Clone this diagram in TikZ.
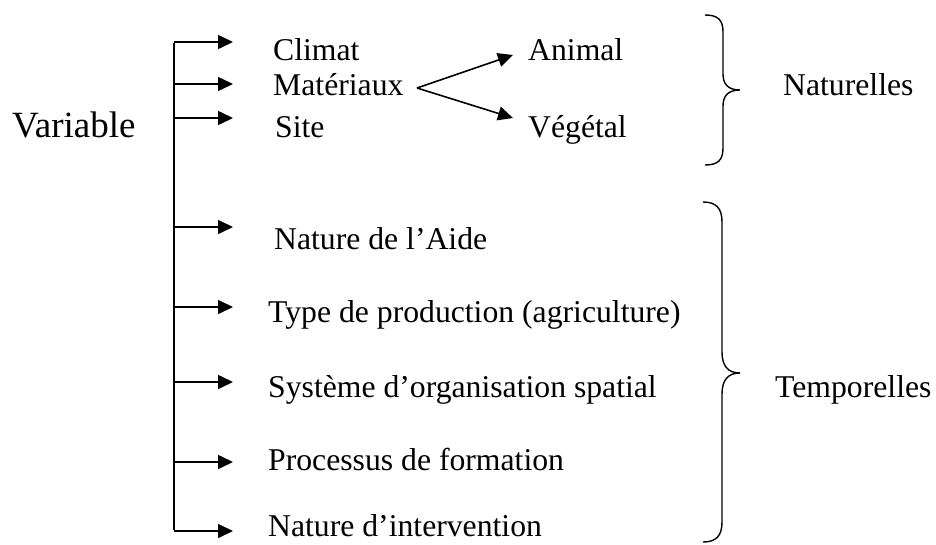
\documentclass[tikz,border=0pt]{standalone}
\usepackage{fontspec}
\setmainfont{Liberation Serif}
\usetikzlibrary{arrows.meta}
\begin{document}
\begin{tikzpicture}[x=1pt,y=-1pt,
  lbl/.style={anchor=base west,inner sep=0pt,font=\fontsize{31.7}{38}\selectfont},
  big/.style={anchor=base west,inner sep=0pt,font=\fontsize{37}{42}\selectfont},
  arr/.style={line width=1.6pt,-{Triangle[length=15pt,width=14pt]}},
  ln/.style={line width=1.6pt},
  brace/.style={line width=1.4pt}]
\useasboundingbox (0,0) rectangle (936,544);
% texts
\node[big] (var) at (12,137) {Variable};
\node[lbl] (climat) at (273,60) {Climat};
\node[lbl] (mat) at (273,95) {Matériaux};
\node[lbl] (site) at (275,137) {Site};
\node[lbl] (animal) at (528,60) {Animal};
\node[lbl] (veg) at (528,137) {Végétal};
\node[lbl] (nat) at (783,95) {Naturelles};
\node[lbl] (aide) at (274,249) {Nature de l’Aide};
\node[lbl] (type) at (268,322) {Type de production (agriculture)};
\node[lbl] (sys) at (268,397) {Système d’organisation spatial};
\node[lbl] (proc) at (268,470) {Processus de formation};
\node[lbl] (inter) at (268,536) {Nature d’intervention};
\node[lbl] (temp) at (775,397) {Temporelles};
% trunk
\coordinate (t1) at (174,42);
\coordinate (t2) at (174,84);
\coordinate (t3) at (174,118);
\coordinate (t4) at (174,227);
\coordinate (t5) at (174,307);
\coordinate (t6) at (174,382);
\coordinate (t7) at (174,462);
\coordinate (t8) at (174,531);
\draw[ln] ([yshift=-0.8pt]t1) -- ([yshift=0.8pt]t8);
\foreach \i in {1,...,8}{
  \draw[arr] (t\i) -- ++(59,0);
}
% split
\coordinate (sp) at (417,88);
\coordinate (sa) at (513,55);
\coordinate (sv) at (513,118);
\draw[arr] (sp) -- (sa);
\draw[arr] (sp) -- (sv);
% top brace
\draw[brace] (705,15) .. controls (718,15) and (723,20) .. (723,32)
  -- (723,74) .. controls (723,84) and (728,90) .. (740,90)
  .. controls (728,90) and (723,96) .. (723,106)
  -- (723,148) .. controls (723,160) and (718,165) .. (705,165);
% bottom brace
\draw[brace] (703,202) .. controls (716,202) and (722,208) .. (722,222)
  -- (722,352) .. controls (722,366) and (728,373) .. (740,373)
  .. controls (728,373) and (722,380) .. (722,394)
  -- (722,522) .. controls (722,536) and (716,542) .. (703,542);
\end{tikzpicture}
\end{document}
